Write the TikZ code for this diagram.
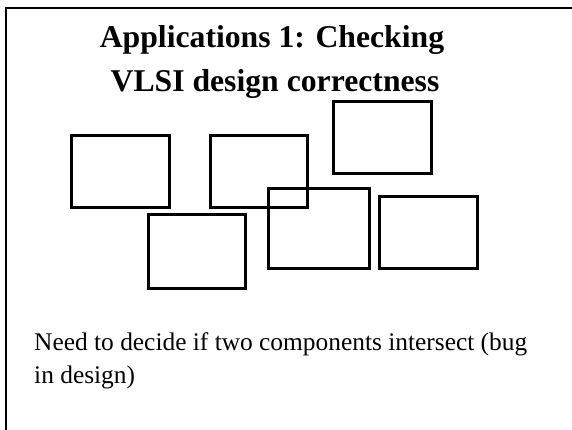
\documentclass[tikz,border=0pt]{standalone}
\usepackage{fontspec}
\setmainfont{Liberation Serif}
\begin{document}
\begin{tikzpicture}[x=1pt,y=-1pt]
              \useasboundingbox (0,0) rectangle (572,430);
              \draw[line width=2pt] (6,440) -- (6,8) -- (580,8);
              \node[anchor=base] (title1) at (272,48) {\fontsize{31.7}{36}\selectfont\bfseries Applications 1: Checking};
              \node[anchor=base] (title2) at (275,92) {\fontsize{31.7}{36}\selectfont\bfseries VLSI design correctness};
              \draw[line width=3pt] (71,136) rectangle (169,208);
              \draw[line width=3pt] (210,136) rectangle (307,208);
              \draw[line width=3pt] (333,102) rectangle (431,174);
              \draw[line width=3pt] (268,189) rectangle (369,268);
              \draw[line width=3pt] (379,197) rectangle (477,268);
              \draw[line width=3pt] (148,215) rectangle (245,288);
              \node[anchor=base west,inner sep=0pt] (need) at (34,350) {\fontsize{25.4}{30}\selectfont Need to decide if two components intersect (bug};
              \node[anchor=base west,inner sep=0pt] (need2) at (34,383) {\fontsize{25.4}{30}\selectfont in design)};
            \end{tikzpicture}
\end{document}
